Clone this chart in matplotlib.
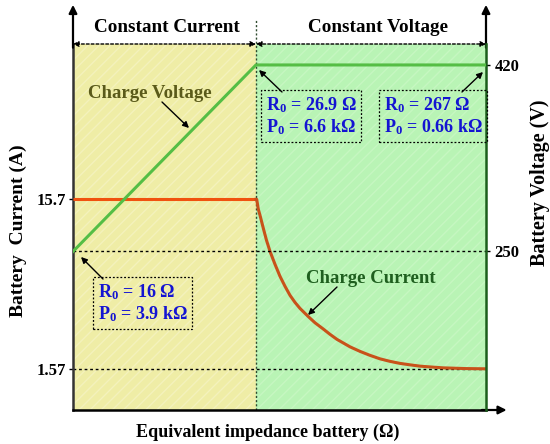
import matplotlib
matplotlib.use("Agg")
import matplotlib.pyplot as plt
import matplotlib.transforms as mtransforms

plt.rcParams['font.family'] = ['Liberation Serif', 'DejaVu Serif']
plt.rcParams['font.weight'] = 'bold'
plt.rcParams['mathtext.fontset'] = 'custom'
plt.rcParams['mathtext.rm'] = 'Liberation Serif:bold'
plt.rcParams['mathtext.bf'] = 'Liberation Serif:bold'
plt.rcParams['mathtext.it'] = 'Liberation Serif:bold'
plt.rcParams['hatch.linewidth'] = 1.0

# ---- data (x: schematic impedance axis 0..100) ----
cc_end = 44.3
x_cc = [0, cc_end]
i_cc = [15.7, 15.7]
x_cv = [44.48, 44.87, 45.28, 46.08, 46.85, 47.70, 48.91, 50.12, 51.33,
        52.54, 53.75, 54.96, 56.90, 58.60, 60.53, 62.23, 63.92, 67.07,
        69.49, 71.91, 74.33, 76.76, 79.18, 81.60, 84.02, 86.68, 89.59,
        94.92, 100]
i_cv = [15.70, 14.87, 14.37, 13.29, 12.29, 11.37, 10.29, 9.29, 8.46,
        7.71, 7.12, 6.62, 5.96, 5.42, 4.92, 4.46, 4.04, 3.42,
        3.04, 2.71, 2.42, 2.21, 2.04, 1.92, 1.81, 1.74, 1.67,
        1.61, 1.59]
x_v = [0, cc_end, 100]
v_v = [250, 420, 420]
cur_ticks = [1.57, 15.7]
cur_labels = ['1.57', '15.7']
volt_ticks = [250, 420]
volt_labels = ['250', '420']

fig = plt.figure(figsize=(5.5, 4.44), dpi=100)
ax = fig.add_axes([73/550, 1-410/444, 413/550, 366/444])
ax.set_xlim(0, 100)
ax.set_ylim(-1.84, 28.63)

ax2 = ax.twinx()
ax2.set_ylim(105.5, 439.1)

# regions
ax.axvspan(0, cc_end, facecolor='#EFEDA6', edgecolor='#F4F2BC', hatch='///', lw=0, zorder=0)
ax.axvspan(cc_end, 100, facecolor='#B9F4B5', edgecolor='#C6F7C1', hatch='///', lw=0, zorder=0)

# reference dotted lines
ax.axhline(cur_ticks[0], color='black', ls=(0, (2, 2)), lw=1, zorder=2)
ax2.axhline(volt_ticks[0], color='black', ls=(0, (2, 2)), lw=1, zorder=2)
trans = mtransforms.blended_transform_factory(ax.transData, ax.transAxes)
ax.plot([cc_end, cc_end], [0, 1.066], transform=trans, color='#2E4A2E',
        ls=(0, (1.5, 1.5)), lw=1, clip_on=False, zorder=2)

# curves
ax.plot(x_cc, i_cc, color='#F0520F', lw=2.2, zorder=4, solid_capstyle='butt')
ax.plot([x_cc[-1]] + x_cv, [i_cc[-1]] + i_cv, color='#C8521A', lw=2.2, zorder=4,
        solid_joinstyle='round')
ax2.plot(x_v, v_v, color='#55BE45', lw=2.2, zorder=3)

# spines
ax.spines['top'].set_visible(False)
ax2.spines['top'].set_visible(False)
ax.spines['left'].set_color('#333333')
ax.spines['left'].set_linewidth(1.8)
ax.spines['bottom'].set_color('black')
ax.spines['bottom'].set_linewidth(1.8)
ax2.spines['right'].set_color('#1B5E1B')
ax2.spines['right'].set_linewidth(1.8)
ax2.spines['left'].set_visible(False)
ax2.spines['bottom'].set_visible(False)
ax.spines['right'].set_visible(False)

ax.set_xticks([])
ax.set_yticks(cur_ticks)
ax.set_yticklabels(cur_labels, fontsize=12, fontweight='bold')
ax.tick_params(axis='y', length=3, width=1, pad=2)
ax2.set_yticks(volt_ticks)
ax2.set_yticklabels(volt_labels, fontsize=12, fontweight='bold')
ax2.tick_params(axis='y', length=3, width=1, pad=3)

# axis arrows
arr = dict(arrowstyle='-|>', color='black', lw=1.6, mutation_scale=12, shrinkA=0, shrinkB=0)
ax.annotate('', xy=(0, 1.107), xytext=(0, 0.99), xycoords='axes fraction', arrowprops=arr)
ax.annotate('', xy=(1, 1.107), xytext=(1, 0.99), xycoords='axes fraction', arrowprops=arr)
ax.annotate('', xy=(1.05, 0), xytext=(0.99, 0), xycoords='axes fraction', arrowprops=arr)

# top region double arrows
darr = dict(arrowstyle='<|-|>', color='black', lw=1, mutation_scale=8,
            shrinkA=0, shrinkB=0, ls=(0, (2, 1.5)))
fx = cc_end / 100
ax.annotate('', xy=(0, 1.0), xytext=(fx, 1.0), xycoords='axes fraction', arrowprops=darr)
ax.annotate('', xy=(fx, 1.0), xytext=(1, 1.0), xycoords='axes fraction', arrowprops=darr)

def fig_xy(px, py):
    return (px/550, 1-py/444)

fig.text(*fig_xy(167, 27), 'Constant Current', fontsize=13.8, ha='center', va='center')
fig.text(*fig_xy(378, 27), 'Constant Voltage', fontsize=13.8, ha='center', va='center')

fig.text(*fig_xy(18, 231), 'Battery  Current (A)', fontsize=14, rotation=90, ha='center', va='center')
fig.text(*fig_xy(540, 183), 'Battery Voltage (V)', fontsize=14.5, rotation=90, ha='center', va='center')
fig.text(*fig_xy(268, 432), 'Equivalent impedance battery (Ω)', fontsize=13, ha='center', va='center')

# curve labels
sarr = dict(arrowstyle='-|>', color='black', lw=1, mutation_scale=9, shrinkA=0, shrinkB=0)
fig.text(*fig_xy(150, 93), 'Charge Voltage', fontsize=13.5, color='#5A5A1A', ha='center', va='center')
ax.annotate('', xy=fig_xy(189, 128), xytext=fig_xy(162, 102), xycoords='figure fraction', arrowprops=sarr)
fig.text(*fig_xy(371, 278), 'Charge Current', fontsize=13.5, color='#1F5F1F', ha='center', va='center')
ax.annotate('', xy=fig_xy(308, 315), xytext=fig_xy(337, 287), xycoords='figure fraction', arrowprops=sarr)

# parameter boxes
box = dict(boxstyle='square,pad=0.25', fc='none', ec='black', ls=(0, (1.5, 1.5)), lw=0.9)
blue = '#1414D2'
def pbox(px, py, txt):
    fig.text(*fig_xy(px, py), txt, fontsize=13, color=blue, ha='left', va='top',
             linespacing=1.2, bbox=box)

pbox(266, 95, 'R$_0$ = 26.9 Ω\nP$_0$ = 6.6 kΩ')
ax.annotate('', xy=fig_xy(259, 70), xytext=fig_xy(282, 92), xycoords='figure fraction', arrowprops=sarr)
pbox(384, 95, 'R$_0$ = 267 Ω\nP$_0$ = 0.66 kΩ')
ax.annotate('', xy=fig_xy(483, 72), xytext=fig_xy(462, 92), xycoords='figure fraction', arrowprops=sarr)
pbox(98, 282, 'R$_0$ = 16 Ω\nP$_0$ = 3.9 kΩ')
ax.annotate('', xy=fig_xy(81, 257), xytext=fig_xy(103, 279), xycoords='figure fraction', arrowprops=sarr)

fig.savefig('out.png', dpi=100)
